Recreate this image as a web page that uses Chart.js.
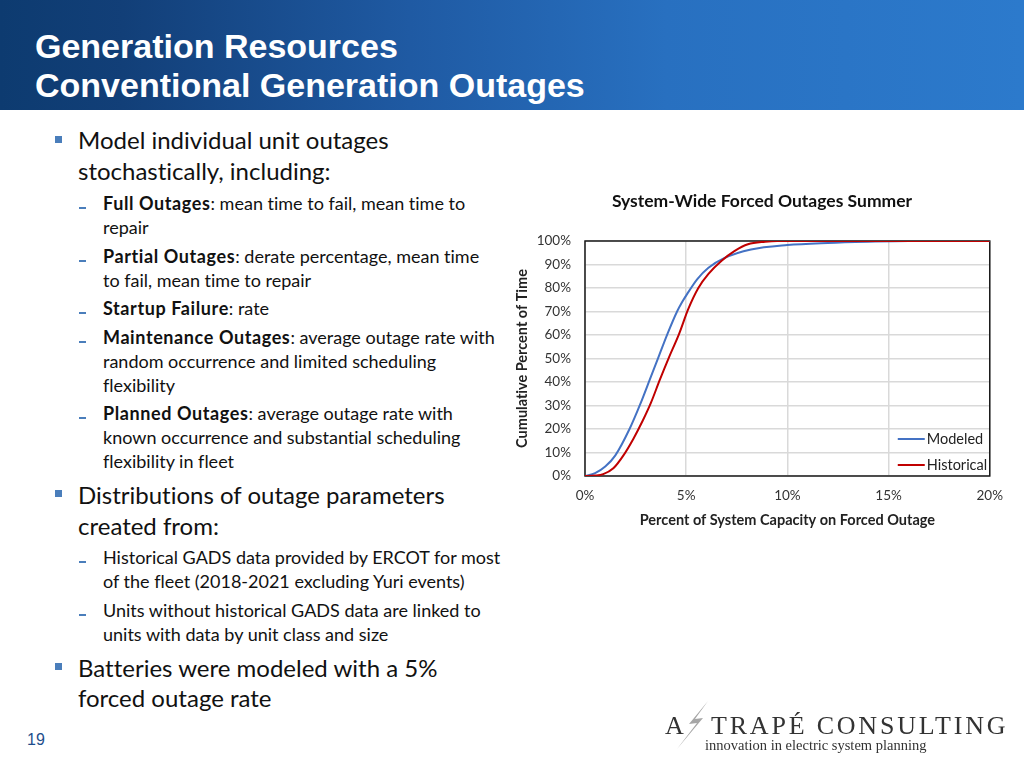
<!DOCTYPE html>
<html>
<head>
<meta charset="utf-8">
<script src="https://cdn.jsdelivr.net/npm/chart.js@4.4.1/dist/chart.umd.min.js"></script>
<style>
  html, body { margin:0; padding:0; background:#fff; }
  body { width:1024px; height:768px; position:relative; overflow:hidden; font-variant-ligatures:none; }
  #header { position:absolute; left:0; top:0; width:1024px; height:110px;
    background: linear-gradient(to right, #0d3b70 0%, #123f78 12%, #1f5aa3 40%, #2870c0 65%, #2c7acc 100%); }
  .ht { position:absolute; left:35px; color:#fff; font-family:"Liberation Sans", Arial, sans-serif; font-weight:bold; font-size:34px; line-height:40px; white-space:nowrap; }
  .l1 { position:absolute; left:78px; font-family:Lato, sans-serif; font-size:24px; line-height:30px; color:#111; white-space:nowrap; }
  .l2 { position:absolute; left:103px; font-family:Lato, sans-serif; font-size:18px; line-height:24px; color:#111; white-space:nowrap; }
  .l2 b { letter-spacing:0.6px; }
  .sq { position:absolute; left:55px; width:7px; height:7px; background:#4a7ebb; }
  .dash { position:absolute; left:79px; width:7px; height:2px; background:#4a7ebb; }
  #chartbox { position:absolute; left:505px; top:180px; width:510px; height:360px; }
  .logo { position:absolute; font-family:"Liberation Serif", "DejaVu Serif", serif; color:#333; white-space:nowrap; }
</style>
</head>
<body>
<div id="header">
  <div class="ht" style="top:26px;">Generation Resources</div>
  <div class="ht" style="top:65px;">Conventional Generation Outages</div>
</div>

<div class="sq" style="top:136px;"></div>
<div class="l1" style="top:125px;">Model individual unit outages</div>
<div class="l1" style="top:156px;">stochastically, including:</div>

<div class="dash" style="top:207px;"></div>
<div class="l2" style="top:191px;"><b>Full Outages</b>: mean time to fail, mean time to</div>
<div class="l2" style="top:215px;">repair</div>
<div class="dash" style="top:260px;"></div>
<div class="l2" style="top:244px;"><b>Partial Outages</b>: derate percentage, mean time</div>
<div class="l2" style="top:268px;">to fail, mean time to repair</div>
<div class="dash" style="top:312px;"></div>
<div class="l2" style="top:296px;"><b>Startup Failure</b>: rate</div>
<div class="dash" style="top:341px;"></div>
<div class="l2" style="top:325px;"><b>Maintenance Outages</b>: average outage rate with</div>
<div class="l2" style="top:349px;">random occurrence and limited scheduling</div>
<div class="l2" style="top:373px;">flexibility</div>
<div class="dash" style="top:417px;"></div>
<div class="l2" style="top:401px;"><b>Planned Outages</b>: average outage rate with</div>
<div class="l2" style="top:425px;">known occurrence and substantial scheduling</div>
<div class="l2" style="top:449px;">flexibility in fleet</div>

<div class="sq" style="top:490px;"></div>
<div class="l1" style="top:480px;">Distributions of outage parameters</div>
<div class="l1" style="top:511px;">created from:</div>
<div class="dash" style="top:561px;"></div>
<div class="l2" style="top:545px;">Historical GADS data provided by ERCOT for most</div>
<div class="l2" style="top:569px;">of the fleet (2018-2021 excluding Yuri events)</div>
<div class="dash" style="top:614px;"></div>
<div class="l2" style="top:598px;">Units without historical GADS data are linked to</div>
<div class="l2" style="top:622px;">units with data by unit class and size</div>

<div class="sq" style="top:663px;"></div>
<div class="l1" style="top:653px;">Batteries were modeled with a 5%</div>
<div class="l1" style="top:683px;">forced outage rate</div>

<div style="position:absolute; left:27px; top:731px; font-family:'Liberation Sans',Arial,sans-serif; font-size:16px; color:#1f4e8c;">19</div>

<div id="chartbox"><canvas id="c" width="510" height="360"></canvas></div>

<svg style="position:absolute; left:0; top:0;" width="1024" height="768">
  <polygon points="708,701 689,724 697,723 677,749 703,718 695,719" fill="#a6a6a6"/>
</svg>
<div class="logo" style="left:665px; top:711px; font-size:26px;">A</div>
<div class="logo" style="left:711px; top:711px; font-size:26px; letter-spacing:2.8px;">TRAPÉ&nbsp;CONSULTING</div>
<div class="logo" style="left:705px; top:737px; font-size:14.5px;">innovation in electric system planning</div>

<script>
// ---- data ----
const chartTitle = 'System-Wide Forced Outages Summer';
const seriesNames = ['Modeled', 'Historical'];
const modeledX = [0, 0.5, 1.0, 1.5, 2.2, 2.75, 3.2, 3.65, 4.1, 4.55, 4.8, 5.05, 5.55, 6.1, 6.9, 8.2, 10, 12, 14, 16, 20];
const modeledY = [0, 1.2, 4, 8.8, 20, 31, 41, 51, 61, 70, 74, 77.5, 83.8, 88.6, 92.8, 96.4, 98.3, 99.2, 99.7, 100, 100];
const historicalX = [0, 0.5, 0.9, 1.4, 1.9, 2.4, 2.85, 3.25, 3.7, 4.15, 4.65, 5.1, 5.6, 6.1, 6.75, 7.4, 8.05, 8.9, 9.5, 20];
const historicalY = [0, 0.2, 0.8, 3.3, 8.8, 16, 23.5, 31, 41, 50.5, 60.5, 71, 80, 86, 91.6, 95.8, 98.6, 99.7, 100, 100];
const xTickLabels = ['0%', '5%', '10%', '15%', '20%'];
const yTickLabels = ['0%', '10%', '20%', '30%', '40%', '50%', '60%', '70%', '80%', '90%', '100%'];

const FONT = 'Lato, Calibri, sans-serif';

const borderPlugin = {
  id: 'plotBorder',
  beforeDatasetsDraw(chart) {
    const {ctx, chartArea: a} = chart;
    ctx.save();
    ctx.strokeStyle = '#1a1a1a';
    ctx.lineWidth = 1.5;
    ctx.strokeRect(a.left, a.top, a.right - a.left, a.bottom - a.top);
    ctx.restore();
  }
};

const titlePlugin = {
  id: 'centeredTitle',
  afterDraw(chart) {
    const {ctx} = chart;
    ctx.save();
    ctx.font = 'bold 17.5px ' + FONT;
    ctx.fillStyle = '#111';
    ctx.textAlign = 'center';
    ctx.textBaseline = 'middle';
    ctx.fillText(chartTitle, chart.width / 2 + 2, 21);
    ctx.restore();
  }
};

const innerLegend = {
  id: 'innerLegend',
  afterDraw(chart) {
    const {ctx, chartArea: a} = chart;
    ctx.save();
    ctx.font = '14.5px ' + FONT;
    ctx.textBaseline = 'middle';
    ctx.textAlign = 'left';
    chart.data.datasets.forEach((ds, i) => {
      const y = a.bottom - 37 + i * 26;
      ctx.strokeStyle = ds.borderColor;
      ctx.lineWidth = 2;
      ctx.beginPath();
      ctx.moveTo(a.right - 92, y);
      ctx.lineTo(a.right - 65, y);
      ctx.stroke();
      ctx.fillStyle = '#222';
      ctx.fillText(ds.label, a.right - 63, y);
    });
    ctx.restore();
  }
};

const toPts = (xs, ys) => xs.map((x, i) => ({x: x, y: ys[i]}));

new Chart(document.getElementById('c'), {
  type: 'line',
  data: {
    datasets: [
      { label: seriesNames[0], data: toPts(modeledX, modeledY), borderColor: '#4472c4', borderWidth: 2,
        pointRadius: 0, cubicInterpolationMode: 'monotone', fill: false, order: 2 },
      { label: seriesNames[1], data: toPts(historicalX, historicalY), borderColor: '#c00000', borderWidth: 2,
        pointRadius: 0, cubicInterpolationMode: 'monotone', fill: false, order: 1 }
    ]
  },
  options: {
    responsive: false,
    animation: false,
    layout: { padding: { left: 0, right: 22, top: 61, bottom: 0 } },
    plugins: {
      legend: { display: false },
      tooltip: { enabled: false },
      title: { display: false }
    },
    scales: {
      x: {
        type: 'linear', min: 0, max: 20,
        ticks: { stepSize: 5, padding: 12, color: '#333', font: { family: FONT, size: 13.5 },
          callback: (v, i) => xTickLabels[i] },
        grid: { color: '#d9d9d9', lineWidth: 1.5, drawTicks: false },
        border: { display: false },
        title: { display: true, text: 'Percent of System Capacity on Forced Outage', color: '#222',
          font: { family: FONT, weight: 'bold', size: 14.5 }, padding: { top: 4, bottom: 11 } },
        afterFit(s) { s.height = 64; }
      },
      y: {
        min: 0, max: 100,
        ticks: { stepSize: 10, padding: 14, color: '#333', font: { family: FONT, size: 13.5 },
          callback: (v, i) => yTickLabels[i] },
        grid: { color: '#d9d9d9', lineWidth: 1.5, drawTicks: false },
        border: { display: false },
        title: { display: true, text: 'Cumulative Percent of Time', color: '#222',
          font: { family: FONT, weight: 'bold', size: 14.5 }, padding: { top: 9, bottom: 0 } },
        afterFit(s) { s.width = 80; }
      }
    }
  },
  plugins: [borderPlugin, titlePlugin, innerLegend]
});
</script>
</body>
</html>
